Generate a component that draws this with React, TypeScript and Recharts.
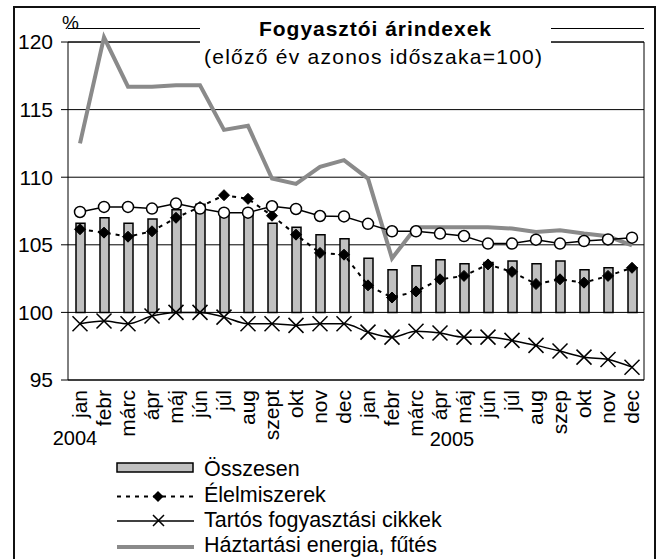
import React from "react";
import {
  ComposedChart,
  Bar,
  Line,
  XAxis,
  YAxis,
  CartesianGrid,
  ReferenceArea,
} from "recharts";

const periods = [
  "2004-01", "2004-02", "2004-03", "2004-04", "2004-05", "2004-06",
  "2004-07", "2004-08", "2004-09", "2004-10", "2004-11", "2004-12",
  "2005-01", "2005-02", "2005-03", "2005-04", "2005-05", "2005-06",
  "2005-07", "2005-08", "2005-09", "2005-10", "2005-11", "2005-12",
];
const monthLabels = [
  "jan", "febr", "márc", "ápr", "máj", "jún", "júl", "aug", "szept", "okt", "nov", "dec",
  "jan", "febr", "márc", "ápr", "máj", "jún", "júl", "aug", "szep", "okt", "nov", "dec",
];
const yearLabels = ["2004", "2005"];
const yTicks = [95, 100, 105, 110, 115, 120];

const osszesen = [
  106.6, 107.0, 106.6, 106.9, 107.6, 108.0, 107.4, 107.4, 106.6, 106.3, 105.75, 105.45,
  104.0, 103.15, 103.45, 103.9, 103.6, 103.7, 103.8, 103.6, 103.8, 103.15, 103.3, 103.3,
];
const elelmiszerek = [
  106.15, 105.9, 105.6, 106.0, 107.0, 107.8, 108.67, 108.4, 107.15, 105.75, 104.4, 104.27,
  102.0, 101.1, 101.55, 102.45, 102.7, 103.55, 103.0, 102.1, 102.45, 102.2, 102.7, 103.3,
];
const tartos = [
  99.16, 99.36, 99.16, 99.73, 100.0, 100.0, 99.65, 99.16, 99.16, 99.04, 99.16, 99.16,
  98.54, 98.17, 98.6, 98.47, 98.17, 98.17, 97.93, 97.56, 97.14, 96.69, 96.52, 95.95,
];
const energia = [
  112.5, 120.35, 116.7, 116.7, 116.8, 116.8, 113.5, 113.8, 109.9, 109.5, 110.76, 111.26,
  109.9, 104.0, 106.3, 106.3, 106.3, 106.3, 106.2, 105.95, 106.07, 105.83, 105.63, 104.96,
];
const szolgaltatasok = [
  107.43, 107.8, 107.8, 107.68, 108.05, 107.68, 107.38, 107.38, 107.85, 107.65, 107.13, 107.1,
  106.55, 106.0, 106.0, 105.83, 105.65, 105.09, 105.09, 105.38, 105.09, 105.28, 105.4, 105.53,
];

const data = periods.map((p, i) => ({
  key: p,
  label: monthLabels[i],
  osszesen: osszesen[i],
  elelmiszerek: elelmiszerek[i],
  tartos: tartos[i],
  energia: energia[i],
  szolgaltatasok: szolgaltatasok[i],
}));

const FONT = '"Liberation Sans", Arial, sans-serif';

const Diamond = (props: any) => {
  const { cx, cy, index } = props;
  if (cx == null || cy == null) return <g key={`d-${index}`} />;
  const r = 5.5;
  return (
    <polygon
      key={`d-${index}`}
      points={`${cx},${cy - r} ${cx + r},${cy} ${cx},${cy + r} ${cx - r},${cy}`}
      fill="#000"
      stroke="#000"
    />
  );
};

const Cross = (props: any) => {
  const { cx, cy, index } = props;
  if (cx == null || cy == null) return <g key={`x-${index}`} />;
  const r = 7.5;
  return (
    <path
      key={`x-${index}`}
      d={`M${cx - r},${cy - r}L${cx + r},${cy + r}M${cx - r},${cy + r}L${cx + r},${cy - r}`}
      stroke="#000"
      strokeWidth={1.5}
      fill="none"
    />
  );
};

const Circle = (props: any) => {
  const { cx, cy, index } = props;
  if (cx == null || cy == null) return <g key={`c-${index}`} />;
  return (
    <circle key={`c-${index}`} cx={cx} cy={cy} r={5.5} fill="#fff" stroke="#000" strokeWidth={1.5} />
  );
};

const MonthTick = (props: any) => {
  const { x, y, payload, index } = props;
  const label = monthLabels[index] ?? payload.value;
  return (
    <text
      x={x}
      y={y}
      transform={`rotate(-90 ${x} ${y})`}
      textAnchor="end"
      dy="0.35em"
      fontSize={21}
      fontFamily={FONT}
      fill="#000"
    >
      {label}
    </text>
  );
};

export default function App() {
  return (
    <div
      style={{
        position: "absolute",
        left: 0,
        top: 0,
        width: 662,
        height: 559,
        overflow: "hidden",
        background: "#fff",
        fontFamily: FONT,
      }}
    >
      <div
        style={{
          position: "absolute",
          left: 13,
          top: 6,
          width: 643,
          height: 620,
          border: "2px solid #111",
          boxSizing: "border-box",
        }}
      />
      <div style={{ position: "absolute", left: 0, top: 0 }}>
        <ComposedChart
          width={662}
          height={559}
          data={data}
          margin={{ top: 28.5, right: 18, left: 0, bottom: 119 }}
          barCategoryGap={0}
        >
          <CartesianGrid horizontal vertical={false} stroke="#000" strokeWidth={1} />
          <XAxis
            dataKey="key"
            interval={0}
            axisLine={false}
            tickLine={false}
            tickSize={0}
            tickMargin={10}
            height={60}
            tick={<MonthTick />}
          />
          <YAxis
            type="number"
            domain={[95, 121]}
            ticks={yTicks}
            width={68}
            axisLine={false}
            tickLine={{ stroke: "#000" }}
            tickSize={7}
            tickMargin={8}
            tick={{ fontSize: 21, fill: "#000", fontFamily: FONT }}
          />
          <ReferenceArea
            x1={periods[0]}
            x2={periods[periods.length - 1]}
            y1={95}
            y2={120}
            fill="none"
            fillOpacity={0}
            stroke="#000"
            strokeWidth={1}
            ifOverflow="visible"
          />
          <Bar
            name="Összesen"
            dataKey={(d: any) => [100, d.osszesen]}
            barSize={9}
            fill="#c0c0c0"
            stroke="#000"
            strokeWidth={1.5}
            isAnimationActive={false}
          />
          <Line
            name="Háztartási energia, fűtés"
            dataKey="energia"
            type="linear"
            stroke="#8a8a8a"
            strokeWidth={4}
            dot={false}
            activeDot={false}
            isAnimationActive={false}
          />
          <Line
            name="Élelmiszerek"
            dataKey="elelmiszerek"
            type="linear"
            stroke="#000"
            strokeWidth={2}
            strokeDasharray="4 5"
            dot={<Diamond />}
            activeDot={false}
            isAnimationActive={false}
          />
          <Line
            name="Tartós fogyasztási cikkek"
            dataKey="tartos"
            type="monotone"
            stroke="#000"
            strokeWidth={1.5}
            dot={<Cross />}
            activeDot={false}
            isAnimationActive={false}
          />
          <Line
            name="Szolgáltatások"
            dataKey="szolgaltatasok"
            type="linear"
            stroke="#000"
            strokeWidth={1.5}
            dot={<Circle />}
            activeDot={false}
            isAnimationActive={false}
          />
        </ComposedChart>
      </div>
      <svg
        width={662}
        height={559}
        style={{ position: "absolute", left: 0, top: 0, pointerEvents: "none" }}
        fontFamily={FONT}
      >
        <rect x={200} y={12} width={351} height={63} fill="#fff" />
        <text
          x={375}
          y={36}
          textAnchor="middle"
          fontSize={21}
          fontWeight="bold"
          fill="#000"
          textLength={232}
          lengthAdjust="spacing"
        >
          Fogyasztói árindexek
        </text>
        <text
          x={373}
          y={64}
          textAnchor="middle"
          fontSize={21}
          fill="#000"
          textLength={338}
          lengthAdjust="spacing"
        >
          (előző év azonos időszaka=100)
        </text>
        <text x={70.5} y={29} textAnchor="middle" fontSize={19} fill="#000">
          %
        </text>
        <text x={75} y={445} textAnchor="middle" fontSize={20} fill="#000">
          {yearLabels[0]}
        </text>
        <text x={452} y={446} textAnchor="middle" fontSize={20} fill="#000">
          {yearLabels[1]}
        </text>

        <rect x={117} y={463} width={76} height={9} fill="#c0c0c0" stroke="#000" strokeWidth={1.5} />
        <text x={204} y={476} fontSize={21.5} fill="#000">Összesen</text>

        <line x1={117} y1={496.5} x2={194} y2={496.5} stroke="#000" strokeWidth={2} strokeDasharray="4 5" />
        <polygon points="158,491 163.5,496.5 158,502 152.5,496.5" fill="#000" />
        <text x={204} y={502} fontSize={21.5} fill="#000">Élelmiszerek</text>

        <line x1={117} y1={521} x2={194} y2={521} stroke="#000" strokeWidth={1.5} />
        <path d="M153,515L164,526M153,526L164,515" stroke="#000" strokeWidth={1.5} />
        <text x={204} y={527} fontSize={21.5} fill="#000">Tartós fogyasztási cikkek</text>

        <line x1={117} y1={547} x2={194} y2={547} stroke="#8a8a8a" strokeWidth={4} />
        <text x={204} y={552} fontSize={21.5} fill="#000">Háztartási energia, fűtés</text>
      </svg>
    </div>
  );
}
